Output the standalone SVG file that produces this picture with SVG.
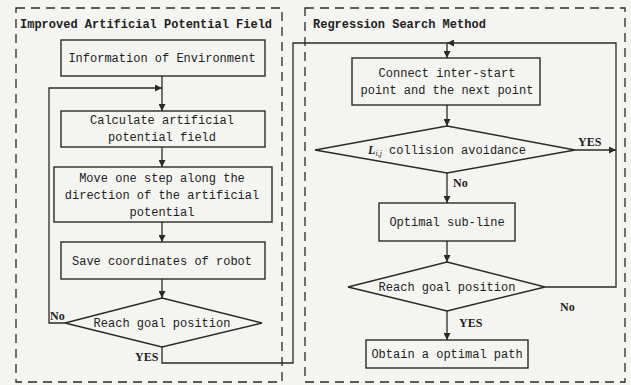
<svg xmlns="http://www.w3.org/2000/svg" width="631" height="385" viewBox="0 0 631 385">
<style>
.bg{fill:#f4f4f1}
.frame{fill:none;stroke:#2a2a2a;stroke-width:1.3;stroke-dasharray:9 6}
.box{fill:none;stroke:#2a2a2a;stroke-width:1.4}
.ln{fill:none;stroke:#2a2a2a;stroke-width:1.3}
.t{font-family:"Liberation Mono",monospace;font-size:12px;fill:#222;text-anchor:middle}
.title{font-family:"Liberation Mono",monospace;font-size:12px;font-weight:bold;fill:#222}
.lab{font-family:"Liberation Serif",serif;font-size:12px;font-weight:bold;fill:#222}
</style>
<defs>
<marker id="ah" viewBox="0 0 10 10" refX="10" refY="5" markerWidth="7" markerHeight="7" orient="auto" markerUnits="userSpaceOnUse">
<path d="M0,0 L10,5 L0,10 z" fill="#2a2a2a"/>
</marker>
</defs>
<rect class="bg" x="0" y="0" width="631" height="385"/>
<g id="frame-left">
<rect class="frame" x="16" y="8" width="266" height="374"/>
<text class="title" x="20" y="28">Improved Artificial Potential Field</text>
</g>
<g id="frame-right">
<rect class="frame" x="305" y="8" width="320" height="374"/>
<text class="title" x="313" y="28">Regression Search Method</text>
</g>
<g id="connectors">
<line class="ln" x1="162" y1="76" x2="162" y2="111" marker-end="url(#ah)"/>
<polyline class="ln" points="65,323 49,323 49,88 162,88" marker-end="url(#ah)"/>
<line class="ln" x1="162" y1="147" x2="162" y2="167" marker-end="url(#ah)"/>
<line class="ln" x1="162" y1="222" x2="162" y2="242" marker-end="url(#ah)"/>
<line class="ln" x1="162" y1="279" x2="162" y2="298" marker-end="url(#ah)"/>
<polyline class="ln" points="162,347 162,363 293,363 293,43 447,43"/>
<polyline class="ln" points="545,287 616,287 616,43 447,43" marker-end="url(#ah)"/>
<line class="ln" x1="447" y1="43" x2="447" y2="58" marker-end="url(#ah)"/>
<line class="ln" x1="447" y1="105" x2="447" y2="126" marker-end="url(#ah)"/>
<line class="ln" x1="575" y1="150" x2="616" y2="150" marker-end="url(#ah)"/>
<line class="ln" x1="447" y1="173" x2="447" y2="203" marker-end="url(#ah)"/>
<line class="ln" x1="447" y1="241" x2="447" y2="262" marker-end="url(#ah)"/>
<line class="ln" x1="447" y1="311" x2="447" y2="340" marker-end="url(#ah)"/>
<text class="lab" x="50" y="320">No</text>
<text class="lab" x="135" y="361">YES</text>
<text class="lab" x="578" y="146">YES</text>
<text class="lab" x="453" y="187">No</text>
<text class="lab" x="560" y="311">No</text>
<text class="lab" x="459" y="327">YES</text>
</g>
<g id="info-env">
<rect class="box" x="61" y="40" width="204" height="36"/>
<text class="t" x="162" y="62">Information of Environment</text>
</g>
<g id="calc-apf">
<rect class="box" x="61" y="111" width="204" height="36"/>
<text class="t" x="162" y="124">Calculate artificial</text>
<text class="t" x="162" y="141">potential field</text>
</g>
<g id="move-step">
<rect class="box" x="54" y="167" width="218" height="55"/>
<text class="t" x="162" y="182">Move one step along the</text>
<text class="t" x="162" y="199">direction of the artificial</text>
<text class="t" x="162" y="216">potential</text>
</g>
<g id="save-coord">
<rect class="box" x="61" y="242" width="204" height="37"/>
<text class="t" x="162" y="265">Save coordinates of robot</text>
</g>
<g id="reach-goal-left">
<polygon class="box" points="162,298 262,323 162,347 65,323"/>
<text class="t" x="162" y="327">Reach goal position</text>
</g>
<g id="connect-points">
<rect class="box" x="352" y="58" width="188" height="47"/>
<text class="t" x="447" y="77">Connect inter-start</text>
<text class="t" x="447" y="94">point and the next point</text>
</g>
<g id="collision">
<polygon class="box" points="447,126 575,150 447,173 315,150"/>
<text class="t" x="447" y="154"><tspan font-family="Liberation Serif,serif" font-style="italic" font-weight="bold">L</tspan><tspan font-family="Liberation Serif,serif" font-style="italic" font-size="8" dy="2">i,j</tspan><tspan dy="-2"> collision avoidance</tspan></text>
</g>
<g id="optimal-subline">
<rect class="box" x="379" y="203" width="136" height="38"/>
<text class="t" x="447" y="226">Optimal sub-line</text>
</g>
<g id="reach-goal-right">
<polygon class="box" points="447,262 545,287 447,311 348,287"/>
<text class="t" x="447" y="291">Reach goal position</text>
</g>
<g id="optimal-path">
<rect class="box" x="366" y="340" width="162" height="28"/>
<text class="t" x="447" y="358">Obtain a optimal path</text>
</g>
</svg>
